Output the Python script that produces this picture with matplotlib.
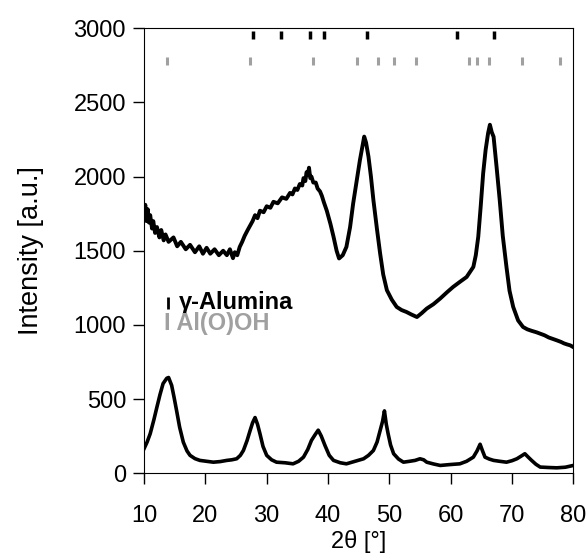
import matplotlib
matplotlib.use('Agg')
import matplotlib.pyplot as plt

plt.rcParams['font.family'] = ['Liberation Sans', 'DejaVu Sans']

#gamma-alumina pattern (upper curve)
alu_x=[10.0,10.2,10.4,10.6,10.8,11.0,11.3,11.5,11.8,12.1,12.5,12.8,13.2,13.5,14.0,14.8,15.4,16.0,16.8,17.5,18.3,19.0,19.6,20.2,20.8,21.5,22.2,22.9,23.5,24.0,24.5,24.8,25.2,25.6,26.0,26.4,26.9,27.3,27.7,28.1,28.5,28.9,29.5,30.0,30.6,31.1,31.8,32.5,33.2,33.8,34.2,34.6,35.0,35.4,35.8,36.0,36.3,36.5,36.7,36.9,37.1,37.3,37.6,38.0,38.3,38.7,39.0,39.3,39.8,
       40.4,40.9,41.4,41.8,42.4,43.0,43.6,44.1,44.7,45.2,45.6,45.9,46.2,46.6,47.0,47.4,48.0,48.5,49.0,49.6,50.4,51.2,52.0,52.8,53.6,54.5,55.3,56.1,57.2,58.3,59.4,60.4,61.5,62.6,63.2,63.7,64.1,64.5,64.9,65.3,65.7,66.1,66.4,66.7,67.0,67.5,68.0,68.5,69.1,69.6,70.2,71.0,
       71.8,72.5,73.2,74.0,74.6,75.3,76.0,76.7,77.3,78.0,78.5,79.0,79.5,80.0]
alu_y=[1740,1810,1700,1780,1690,1740,1650,1700,1620,1660,1590,1640,1570,1610,1560,1590,1530,1560,1510,1540,1490,1530,1480,1520,1480,1510,1470,1500,1470,1510,1450,1490,1470,1526,1560,1600,1640,1670,1700,1740,1720,1770,1760,1800,1790,1830,1820,1860,1850,1890,1880,1920,1910,1950,1940,1990,1970,2030,2010,2060,1990,2000,1960,1960,1920,1900,1870,1830,1770,
       1680,1594,1500,1448,1470,1526,1660,1819,1980,2111,2200,2270,2230,2134,2000,1842,1640,1481,1340,1234,1170,1121,1100,1087,1070,1053,1080,1110,1140,1178,1220,1256,1290,1323,1360,1391,1470,1594,1800,2022,2180,2292,2350,2300,2269,2060,1842,1600,1391,1230,1121,1030,
       986,970,960,950,941,930,915,905,896,885,875,868,862,850]

#Al(O)OH pattern (lower curve)
boe_x=[10.0,10.5,11.0,11.6,12.1,12.6,13.1,13.7,14.0,14.5,14.9,15.3,15.8,16.4,17.0,17.5,18.3,19.1,20.2,21.3,22.4,23.5,24.3,25.1,25.7,26.2,26.8,27.3,27.7,28.1,28.5,28.9,29.4,30.0,30.8,31.6,33.0,34.3,35.2,36.0,36.7,37.3,37.9,38.4,38.9,39.5,40.2,40.9,42.0,43.0,44.4,45.8,46.6,47.4,48.0,48.5,48.9,49.2,49.5,49.8,50.2,50.7,51.5,52.3,53.3,54.2,55.0,55.6,56.1,57.2,58.3,59.9,61.5,62.6,63.7,64.3,64.8,65.2,65.6,66.3,67.0,68.0,69.1,70.0,70.8,71.5,72.1,72.6,73.2,73.9,74.6,76.0,77.3,78.7,80.0]
boe_y=[165,210,266,360,446,530,604,640,645,592,510,423,310,209,150,120,98,86,80,74,78,86,90,97,120,153,220,288,340,375,330,266,180,120,90,74,70,63,80,108,160,221,260,290,250,187,120,86,70,63,80,97,120,153,210,288,350,420,330,266,190,131,95,74,80,86,97,90,74,62,52,58,63,80,108,150,195,150,108,95,86,80,74,84,97,115,131,110,86,60,41,38,36,40,52]

#reflection positions for the tick marks at the top
alu_ref=[27.8,32.3,37.0,39.4,46.3,61.1,67.1]
boe_ref=[13.8,27.3,37.6,44.8,48.2,50.8,54.4,63.0,64.3,66.3,71.7,77.8]

fig=plt.figure(figsize=(5.88,5.56),dpi=100)
ax=fig.add_axes([0.245,0.149,0.73,0.800])

ax.plot(alu_x,alu_y,color='black',linewidth=2.8,solid_joinstyle='round')
ax.plot(boe_x,boe_y,color='black',linewidth=2.6,solid_joinstyle='round')

ax.vlines(alu_ref,2930,2985,color='black',linewidth=2.5)
ax.vlines(boe_ref,2750,2810,color='#a0a0a0',linewidth=2.2)

#legend drawn as text
ax.vlines([13.9],1110,1190,color='black',linewidth=2)
ax.text(15.6,1150,'γ-Alumina',fontsize=17,fontweight='bold',color='black',va='center')
ax.text(13.3,1010,'I Al(O)OH',fontsize=17,fontweight='bold',color='#a0a0a0',va='center')

ax.set_xlim(10,80)
ax.set_ylim(0,3000)
ax.set_xticks([10,20,30,40,50,60,70,80])
ax.set_yticks([0,500,1000,1500,2000,2500,3000])
ax.tick_params(direction='out',labelsize=17,length=8,width=1,top=False,right=False)
ax.tick_params(axis='x',pad=15)
ax.tick_params(axis='y',pad=5)
ax.set_xlabel('2θ [°]',fontsize=17,labelpad=2)
ax.set_ylabel('Intensity [a.u.]',fontsize=19.5,labelpad=21)

fig.savefig('out.png',dpi=100)
